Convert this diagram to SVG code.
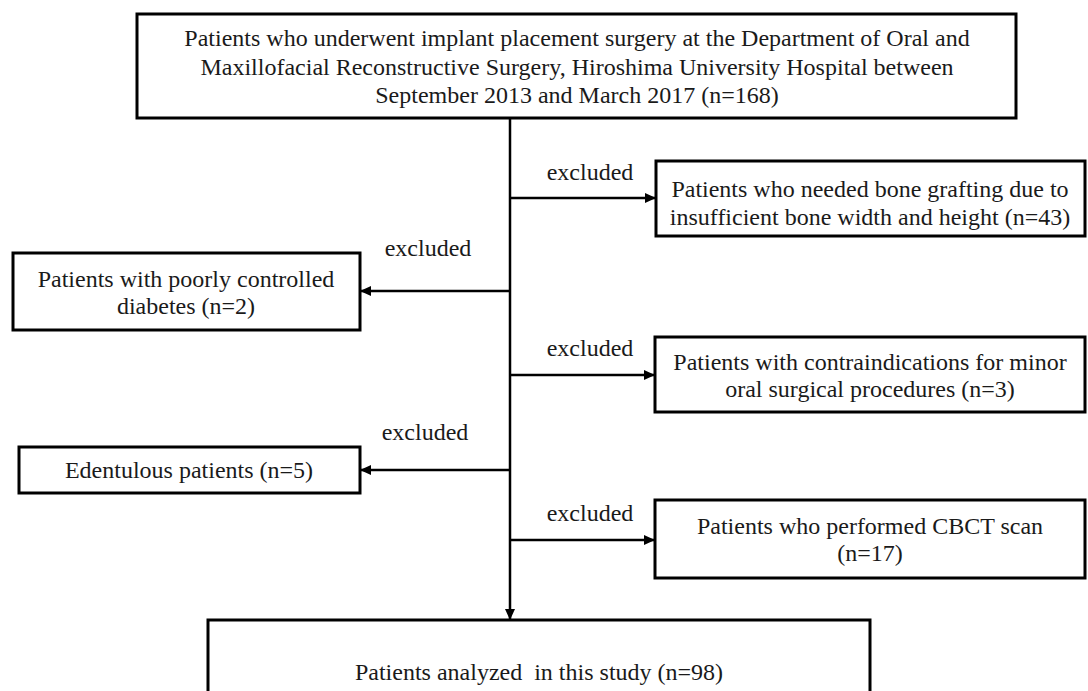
<svg xmlns="http://www.w3.org/2000/svg" width="1088" height="691" viewBox="0 0 1088 691">
<defs>
<marker id="ah" markerWidth="11" markerHeight="10" refX="10" refY="5" orient="auto" markerUnits="userSpaceOnUse">
<path d="M0,0 L11,5 L0,10 Z" fill="#000"/>
</marker>
<style>
.box{fill:#fff;stroke:#000;stroke-width:3}
.t{font-family:"Liberation Serif","Times New Roman",serif;font-size:24px;fill:#1a1a1a;text-anchor:middle}
.c{stroke:#000;stroke-width:2.5;fill:none}
</style>
</defs>
<rect width="1088" height="691" fill="#fff"/>
<g id="connectors">
<line class="c" x1="510" y1="118" x2="510" y2="619" marker-end="url(#ah)"/>
<line class="c" x1="510" y1="198" x2="655" y2="198" marker-end="url(#ah)"/>
<line class="c" x1="510" y1="291" x2="361" y2="291" marker-end="url(#ah)"/>
<line class="c" x1="510" y1="375" x2="654" y2="375" marker-end="url(#ah)"/>
<line class="c" x1="510" y1="470" x2="361" y2="470" marker-end="url(#ah)"/>
<line class="c" x1="510" y1="540" x2="654" y2="540" marker-end="url(#ah)"/>
<text class="t" x="590" y="180">excluded</text>
<text class="t" x="428" y="256">excluded</text>
<text class="t" x="590" y="356">excluded</text>
<text class="t" x="425" y="440">excluded</text>
<text class="t" x="590" y="521">excluded</text>
</g>
<g id="n-top">
<rect class="box" x="137" y="14" width="879" height="104"/>
<text class="t" x="577" y="46">Patients who underwent implant placement surgery at the Department of Oral and</text>
<text class="t" x="577" y="75">Maxillofacial Reconstructive Surgery, Hiroshima University Hospital between</text>
<text class="t" x="577" y="103">September 2013 and March 2017 (n=168)</text>
</g>
<g id="n-bone">
<rect class="box" x="656" y="161" width="429" height="75"/>
<text class="t" x="870" y="197">Patients who needed bone grafting due to</text>
<text class="t" x="870" y="225">insufficient bone width and height (n=43)</text>
</g>
<g id="n-diabetes">
<rect class="box" x="13" y="253" width="347" height="77"/>
<text class="t" x="186" y="287">Patients with poorly controlled</text>
<text class="t" x="186" y="314">diabetes (n=2)</text>
</g>
<g id="n-contra">
<rect class="box" x="655" y="337" width="430" height="75"/>
<text class="t" x="870" y="370">Patients with contraindications for minor</text>
<text class="t" x="870" y="397">oral surgical procedures (n=3)</text>
</g>
<g id="n-edentulous">
<rect class="box" x="19" y="447" width="341" height="46"/>
<text class="t" x="189" y="478">Edentulous patients (n=5)</text>
</g>
<g id="n-cbct">
<rect class="box" x="655" y="500" width="430" height="78"/>
<text class="t" x="870" y="534">Patients who performed CBCT scan</text>
<text class="t" x="870" y="561">(n=17)</text>
</g>
<g id="n-analyzed">
<rect class="box" x="208" y="620" width="662" height="85"/>
<text class="t" x="539" y="680" xml:space="preserve">Patients analyzed  in this study (n=98)</text>
</g>
</svg>
